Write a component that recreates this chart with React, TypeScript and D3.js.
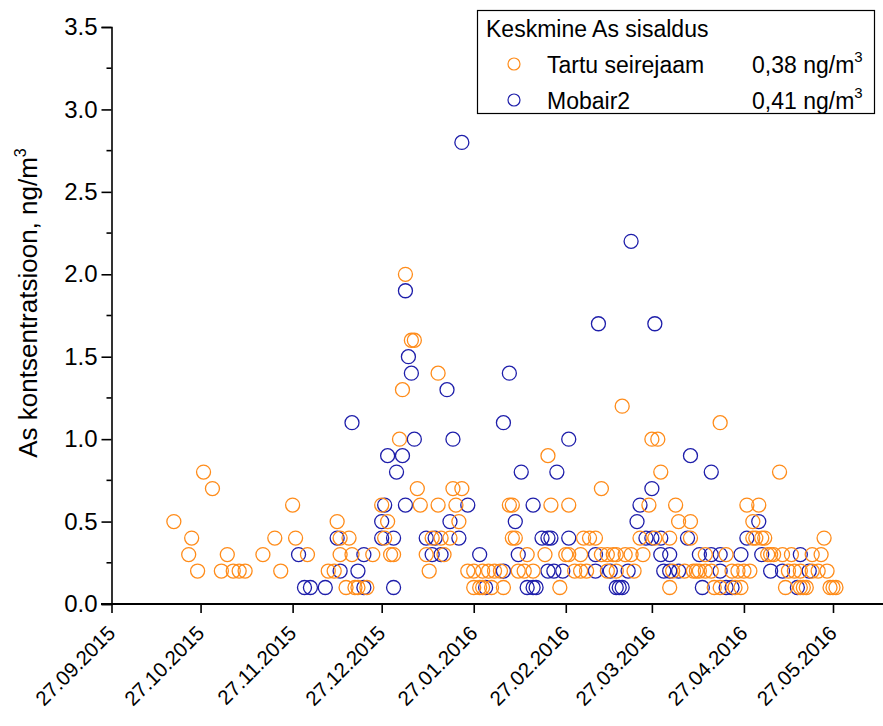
import React, { useRef, useEffect } from 'react';
import * as d3 from 'd3';

// Tartu seirejaam (orange)
const tartuDates = [
  '2015-10-18', '2015-10-23', '2015-10-24', '2015-10-26', '2015-10-28', '2015-10-31',
  '2015-11-03', '2015-11-05', '2015-11-07', '2015-11-09', '2015-11-11', '2015-11-17',
  '2015-11-21', '2015-11-23', '2015-11-27', '2015-11-28', '2015-12-02', '2015-12-09',
  '2015-12-11', '2015-12-12', '2015-12-13', '2015-12-13', '2015-12-15', '2015-12-16',
  '2015-12-17', '2015-12-18', '2015-12-19', '2015-12-22', '2015-12-24', '2015-12-27',
  '2015-12-28', '2015-12-29', '2015-12-30', '2015-12-31', '2016-01-02', '2016-01-03',
  '2016-01-04', '2016-01-06', '2016-01-07', '2016-01-08', '2016-01-09', '2016-01-11',
  '2016-01-12', '2016-01-13', '2016-01-15', '2016-01-15', '2016-01-16', '2016-01-17',
  '2016-01-19', '2016-01-20', '2016-01-21', '2016-01-22', '2016-01-23', '2016-01-25',
  '2016-01-27', '2016-01-27', '2016-01-29', '2016-01-30', '2016-01-30', '2016-02-01',
  '2016-02-02', '2016-02-03', '2016-02-05', '2016-02-06', '2016-02-08', '2016-02-09',
  '2016-02-09', '2016-02-10', '2016-02-11', '2016-02-13', '2016-02-14', '2016-02-16',
  '2016-02-20', '2016-02-21', '2016-02-22', '2016-02-25', '2016-02-27', '2016-02-28',
  '2016-02-28', '2016-03-01', '2016-03-03', '2016-03-03', '2016-03-04', '2016-03-05',
  '2016-03-06', '2016-03-08', '2016-03-10', '2016-03-10', '2016-03-12', '2016-03-12',
  '2016-03-14', '2016-03-15', '2016-03-15', '2016-03-17', '2016-03-18', '2016-03-20',
  '2016-03-21', '2016-03-23', '2016-03-24', '2016-03-26', '2016-03-27', '2016-03-29',
  '2016-03-28', '2016-03-30', '2016-04-02', '2016-04-02', '2016-04-03', '2016-04-04',
  '2016-04-05', '2016-04-07', '2016-04-09', '2016-04-09', '2016-04-10', '2016-04-11',
  '2016-04-12', '2016-04-14', '2016-04-14', '2016-04-16', '2016-04-17', '2016-04-19',
  '2016-04-19', '2016-04-21', '2016-04-23', '2016-04-24', '2016-04-25', '2016-04-26',
  '2016-04-27', '2016-04-28', '2016-04-29', '2016-04-30', '2016-04-30', '2016-05-01',
  '2016-05-02', '2016-05-03', '2016-05-04', '2016-05-05', '2016-05-06', '2016-05-07',
  '2016-05-09', '2016-05-10', '2016-05-11', '2016-05-12', '2016-05-13', '2016-05-14',
  '2016-05-16', '2016-05-16', '2016-05-17', '2016-05-18', '2016-05-20', '2016-05-20',
  '2016-05-22', '2016-05-23', '2016-05-24', '2016-05-25', '2016-05-26', '2016-05-27',
  '2016-05-28'
];
const tartuValues = [
  0.5, 0.3, 0.4, 0.2, 0.8, 0.7,
  0.2, 0.3, 0.2, 0.2, 0.2, 0.3,
  0.4, 0.2, 0.6, 0.4, 0.3, 0.2,
  0.2, 0.5, 0.3, 0.4, 0.1, 0.4,
  0.3, 0.1, 0.1, 0.1, 0.3, 0.6,
  0.4, 0.5, 0.3, 0.3, 1.0, 1.3,
  2.0, 1.6, 1.6, 0.7, 0.6, 0.3,
  0.2, 0.4, 0.6, 1.4, 0.4, 0.3,
  0.4, 0.7, 0.6, 0.5, 0.7, 0.2,
  0.2, 0.1, 0.1, 0.1, 0.2, 0.2,
  0.1, 0.2, 0.2, 0.1, 0.6, 0.4,
  0.6, 0.4, 0.2, 0.2, 0.3, 0.2,
  0.3, 0.9, 0.6, 0.1, 0.3, 0.3,
  0.6, 0.2, 0.2, 0.3, 0.4, 0.2,
  0.4, 0.4, 0.7, 0.3, 0.2, 0.3,
  0.3, 0.3, 0.2, 1.2, 0.3, 0.3,
  0.2, 0.4, 0.3, 0.6, 1.0, 1.0,
  0.4, 0.8, 0.1, 0.4, 0.2, 0.6,
  0.5, 0.2, 0.5, 0.4, 0.2, 0.2,
  0.2, 0.2, 0.3, 0.2, 0.1, 0.1,
  1.1, 0.3, 0.2, 0.1, 0.2, 0.1,
  0.2, 0.6, 0.2, 0.5, 0.4, 0.4,
  0.6, 0.4, 0.4, 0.3, 0.3, 0.3,
  0.8, 0.3, 0.1, 0.2, 0.3, 0.2,
  0.2, 0.1, 0.1, 0.1, 0.3, 0.2,
  0.2, 0.3, 0.4, 0.2, 0.1, 0.1,
  0.1
];

// Mobair2 (blue)
const mobairDates = [
  '2015-11-29', '2015-12-01', '2015-12-03', '2015-12-08', '2015-12-12', '2015-12-13',
  '2015-12-17', '2015-12-19', '2015-12-21', '2015-12-21', '2015-12-27', '2015-12-27',
  '2015-12-28', '2015-12-29', '2015-12-31', '2015-12-31', '2016-01-01', '2016-01-03',
  '2016-01-04', '2016-01-04', '2016-01-05', '2016-01-06', '2016-01-07', '2016-01-11',
  '2016-01-13', '2016-01-14', '2016-01-16', '2016-01-18', '2016-01-19', '2016-01-20',
  '2016-01-22', '2016-01-23', '2016-01-25', '2016-01-29', '2016-01-31', '2016-02-06',
  '2016-02-06', '2016-02-08', '2016-02-10', '2016-02-11', '2016-02-12', '2016-02-14',
  '2016-02-16', '2016-02-16', '2016-02-17', '2016-02-19', '2016-02-21', '2016-02-22',
  '2016-02-21', '2016-02-23', '2016-02-24', '2016-02-26', '2016-02-28', '2016-02-28',
  '2016-03-08', '2016-03-08', '2016-03-09', '2016-03-13', '2016-03-15', '2016-03-16',
  '2016-03-17', '2016-03-19', '2016-03-20', '2016-03-22', '2016-03-23', '2016-03-25',
  '2016-03-27', '2016-03-28', '2016-03-27', '2016-03-30', '2016-03-30', '2016-03-31',
  '2016-04-02', '2016-04-02', '2016-04-05', '2016-04-08', '2016-04-09', '2016-04-12',
  '2016-04-13', '2016-04-16', '2016-04-16', '2016-04-19', '2016-04-19', '2016-04-21',
  '2016-04-23', '2016-04-26', '2016-04-28', '2016-05-02', '2016-05-03', '2016-05-06',
  '2016-05-10', '2016-05-15', '2016-05-16', '2016-05-19'
];
const mobairValues = [
  0.3, 0.1, 0.1, 0.1, 0.4, 0.2,
  1.1, 0.2, 0.3, 0.1, 0.4, 0.5,
  0.6, 0.9, 0.4, 0.1, 0.8, 0.9,
  0.6, 1.9, 1.5, 1.4, 1.0, 0.4,
  0.3, 0.4, 0.3, 1.3, 0.5, 1.0,
  0.4, 2.8, 0.6, 0.3, 0.1, 0.2,
  1.1, 1.4, 0.5, 0.3, 0.8, 0.1,
  0.1, 0.6, 0.1, 0.4, 0.4, 0.4,
  0.2, 0.2, 0.8, 0.2, 1.0, 0.4,
  0.3, 0.2, 1.7, 0.2, 0.1, 0.1,
  0.1, 0.2, 2.2, 0.5, 0.6, 0.4,
  0.7, 1.7, 0.4, 0.4, 0.3, 0.2,
  0.2, 0.3, 0.2, 0.4, 0.9, 0.3,
  0.1, 0.3, 0.8, 0.2, 0.3, 0.1,
  0.1, 0.3, 0.4, 0.5, 0.3, 0.2,
  0.2, 0.1, 0.3, 0.2
];

const xTickDates = [
  '2015-09-27', '2015-10-27', '2015-11-27', '2015-12-27', '2016-01-27',
  '2016-02-27', '2016-03-27', '2016-04-27', '2016-05-27'
];
const yTicks = [0, 0.5, 1, 1.5, 2, 2.5, 3, 3.5];
const yMinorTicks = [0.25, 0.75, 1.25, 1.75, 2.25, 2.75, 3.25];

const legendTitle = 'Keskmine As sisaldus';
const seriesNames = ['Tartu seirejaam', 'Mobair2'];
const seriesMeans = ['0,38', '0,41'];

const ORANGE = '#ff8c1a';
const BLUE = '#1e1eaa';
const FONT = '"Liberation Sans", Arial, sans-serif';

const App = () => {
  const svgRef = useRef(null);

  useEffect(() => {
    const svg = d3.select(svgRef.current);
    svg.selectAll('*').remove();

    const parse = d3.utcParse('%Y-%m-%d');
    const fmt = d3.utcFormat('%d.%m.%Y');

    // scales
    const xScale = d3
      .scaleUtc()
      .domain([parse('2015-09-27'), parse('2016-06-12')])
      .range([111.5, 880.5]);
    const yScale = d3.scaleLinear().domain([0, 3.5]).range([604, 27]);

    // points, blue first, orange on top
    const series = [
      { dates: mobairDates, values: mobairValues, color: BLUE },
      { dates: tartuDates, values: tartuValues, color: ORANGE }
    ];
    series.forEach(s => {
      svg
        .append('g')
        .selectAll('circle')
        .data(s.dates.map((d, i) => ({ date: parse(d), value: s.values[i] })))
        .join('circle')
        .attr('cx', d => xScale(d.date))
        .attr('cy', d => yScale(d.value))
        .attr('r', 7)
        .attr('fill', 'none')
        .attr('stroke', s.color)
        .attr('stroke-width', 1.3);
    });

    // y axis
    const yAxis = svg
      .append('g')
      .attr('transform', 'translate(111.5,0)')
      .call(
        d3
          .axisLeft(yScale)
          .tickValues(yTicks)
          .tickSize(10)
          .tickPadding(4)
          .tickFormat(d3.format('.1f'))
      );
    yAxis.select('.domain').attr('stroke-width', 1.6);
    yAxis.selectAll('.tick line').attr('stroke-width', 1.6);
    yAxis
      .selectAll('.tick text')
      .attr('font-family', FONT)
      .attr('font-size', 24)
      .attr('fill', '#000');
    yAxis
      .append('g')
      .selectAll('line')
      .data(yMinorTicks)
      .join('line')
      .attr('x1', -5)
      .attr('x2', 0)
      .attr('y1', d => yScale(d))
      .attr('y2', d => yScale(d))
      .attr('stroke', '#000')
      .attr('stroke-width', 1.6);

    // x axis
    const xAxis = svg
      .append('g')
      .attr('transform', 'translate(0,604)')
      .call(
        d3
          .axisBottom(xScale)
          .tickValues(xTickDates.map(parse))
          .tickSize(9)
          .tickSizeOuter(0)
          .tickFormat(fmt)
      );
    xAxis.select('.domain').attr('d', 'M101,0H883').attr('stroke-width', 2);
    xAxis.selectAll('.tick line').attr('stroke-width', 1.6);
    xAxis
      .selectAll('.tick text')
      .attr('font-family', FONT)
      .attr('font-size', 20.5)
      .attr('fill', '#000')
      .attr('text-anchor', 'end')
      .attr('dy', 0)
      .attr('transform', 'translate(-4,22) rotate(-45)');

    // y title
    const yTitle = svg
      .append('text')
      .attr('transform', 'translate(37,303) rotate(-90)')
      .attr('text-anchor', 'middle')
      .attr('font-family', FONT)
      .attr('font-size', 26)
      .attr('fill', '#000');
    yTitle.append('tspan').text('As kontsentratsioon, ng/m');
    yTitle.append('tspan').attr('dy', -11).attr('font-size', 16).text('3');

    // legend
    const legend = svg.append('g');
    legend
      .append('rect')
      .attr('x', 477.5)
      .attr('y', 10.5)
      .attr('width', 397)
      .attr('height', 103)
      .attr('fill', '#fff')
      .attr('stroke', '#000')
      .attr('stroke-width', 1.2);
    legend
      .append('text')
      .attr('x', 486)
      .attr('y', 37)
      .attr('font-family', FONT)
      .attr('font-size', 23)
      .text(legendTitle);
    [ORANGE, BLUE].forEach((color, i) => {
      const cy = 64 + i * 36;
      legend
        .append('circle')
        .attr('cx', 514)
        .attr('cy', cy)
        .attr('r', 6)
        .attr('fill', 'none')
        .attr('stroke', color)
        .attr('stroke-width', 1.2);
      legend
        .append('text')
        .attr('x', 547)
        .attr('y', cy + 9)
        .attr('font-family', FONT)
        .attr('font-size', 23)
        .text(seriesNames[i]);
      const mean = legend
        .append('text')
        .attr('x', 752)
        .attr('y', cy + 9)
        .attr('font-family', FONT)
        .attr('font-size', 23);
      mean.append('tspan').text(`${seriesMeans[i]} ng/m`);
      mean.append('tspan').attr('dy', -11).attr('font-size', 15).text('3');
    });
  }, []);

  return (
    <svg
      ref={svgRef}
      width={883}
      height={726}
      style={{ position: 'absolute', left: 0, top: 0, background: '#fff' }}
    />
  );
};

export default App;
